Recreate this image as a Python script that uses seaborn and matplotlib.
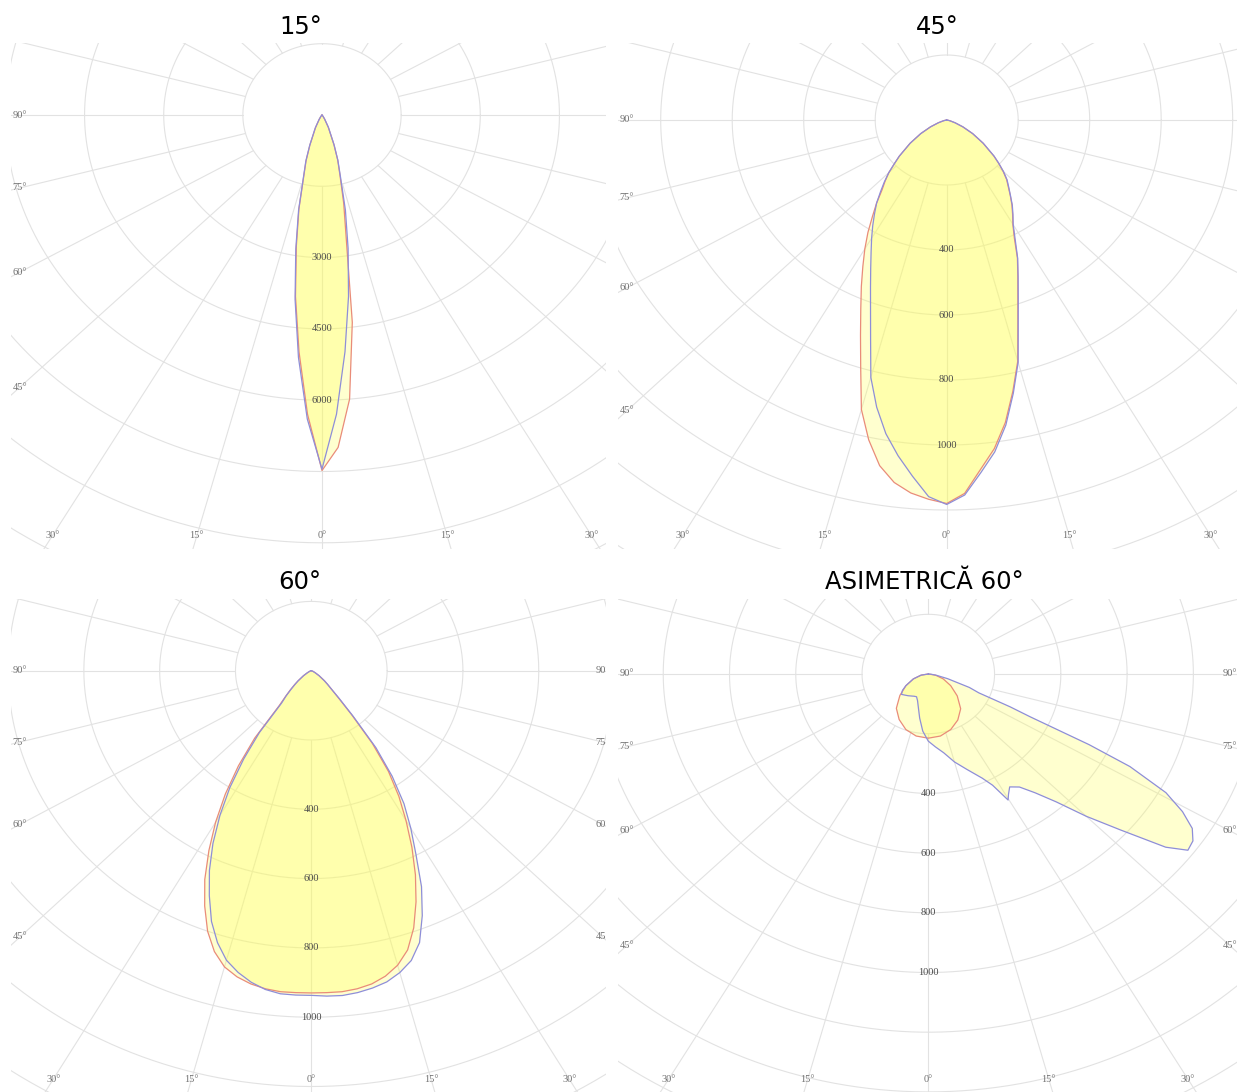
import numpy as np
import matplotlib
matplotlib.use("Agg")
import matplotlib.pyplot as plt
import seaborn as sns

sns.set_theme(style="white")
plt.rcParams["font.family"] = ["DejaVu Sans"]

W, H = 1237, 1092

# 1. Data: luminous intensity (cd) against gamma angle (deg), negative = left half
gamma_15 = [-90, -60, -45, -40, -35, -30, -25, -20, -17.5, -15, -12.5, -10, -7.5, -5, -2.5,
            0, 2.5, 5, 7.5, 10, 12.5, 15, 17.5, 20, 25, 30, 35, 40, 45, 60, 90]
red_15 = [0, 0, 5, 15, 40, 110, 290, 670, 1000, 1340, 2020, 2800, 3850, 5000, 6300,
          7480, 7000, 6000, 4400, 2650, 1900, 1320, 990, 660, 280, 100, 35, 12, 5, 0, 0]
blue_15 = [0, 0, 5, 15, 40, 110, 300, 680, 1020, 1360, 2050, 2860, 3910, 5120, 6400,
           7450, 6300, 5000, 3850, 2850, 2050, 1360, 1000, 670, 290, 100, 35, 12, 5, 0, 0]

gamma_wide = [-90, -85, -80, -75, -70, -65, -60, -55, -50, -47.5, -45, -42.5, -40, -37.5,
              -35, -32.5, -30, -27.5, -25, -22.5, -20, -17.5, -15, -12.5, -10, -7.5, -5, -2.5,
              0, 2.5, 5, 7.5, 10, 12.5, 15, 17.5, 20, 22.5, 25, 27.5, 30, 32.5, 35, 37.5,
              40, 42.5, 45, 47.5, 50, 55, 60, 65, 70, 75, 80, 85, 90]
red_45 = [0, 0, 3, 10, 25, 50, 84, 125, 173, 198, 229, 255, 282, 322,
          362, 410, 458, 508, 565, 628, 705, 800, 922, 1008, 1080, 1125, 1152, 1168,
          1180, 1150, 1080, 1020, 945, 855, 768, 662, 582, 520, 468, 410, 370, 343, 318, 292,
          268, 248, 223, 197, 172, 124, 84, 50, 25, 10, 3, 0, 0]
blue_45 = [0, 0, 3, 10, 25, 50, 84, 125, 173, 198, 229, 258, 288, 322,
           352, 385, 420, 458, 503, 557, 623, 708, 820, 905, 980, 1042, 1100, 1160,
           1183, 1155, 1090, 1030, 953, 861, 772, 665, 585, 522, 470, 415, 372, 345, 320, 293,
           270, 250, 225, 198, 173, 125, 84, 50, 25, 10, 3, 0, 0]

red_60 = [0, 0, 0, 1, 3, 6, 12, 25, 46, 60, 78, 100, 132, 245,
          335, 422, 505, 585, 665, 735, 800, 850, 885, 905, 918, 926, 930, 930,
          930, 930, 930, 926, 918, 903, 880, 845, 790, 722, 650, 575, 500, 430, 355, 265,
          165, 105, 75, 58, 45, 25, 12, 6, 3, 1, 0, 0, 0]
blue_60 = [0, 0, 0, 1, 3, 6, 12, 25, 45, 58, 75, 98, 122, 225,
           311, 400, 482, 562, 636, 703, 770, 823, 865, 892, 913, 928, 936, 937,
           937, 940, 941, 937, 930, 920, 902, 877, 835, 765, 688, 598, 525, 455, 372, 280,
           172, 110, 75, 58, 45, 25, 12, 6, 3, 1, 0, 0, 0]

gamma_asym_red = [-90, -80, -70, -60, -50, -40, -30, -20, -10, 0, 10, 20, 30, 40, 50, 60, 70, 80, 90]
red_asym = [0, 22, 48, 78, 112, 150, 176, 198, 211, 215, 211, 198, 178, 152, 114, 78, 48, 22, 0]
gamma_asym_blue = [-90, -80, -70, -60, -55, -50, -45, -40, -35, -30, -25, -20, -15, -10, -5,
                   0, 5, 10, 15, 20, 25, 27.5, 29.7, 31, 33, 36, 39, 42, 45, 48, 51, 53, 55,
                   57, 59, 61, 63, 64, 65, 66, 67.5, 70, 75, 80, 85, 90]
blue_asym = [0, 22, 48, 78, 95, 106, 100, 95, 90, 86, 84, 95, 116, 150, 192,
             225, 245, 268, 305, 340, 385, 420, 486, 470, 451, 468, 512, 576, 674, 781, 922, 981, 975,
             950, 895, 820, 683, 540, 339, 270, 165, 132, 60, 25, 8, 0]

titles = ["15°", "45°", "60°", "ASIMETRICĂ 60°"]
ring_labels_15 = [3000, 4500, 6000]
ring_labels_other = [400, 600, 800, 1000]
angle_ticks = [0, 15, 30, 45, 60, 75, 90]

GRID = "#e2e2e2"
RED = "#e98c79"
BLUE = "#8e8ed8"
FILL = "#ffff55"


def to_xy(gamma, cd):
    g = np.radians(np.asarray(gamma, float))
    cd = np.asarray(cd, float)
    return cd * np.sin(g), -cd * np.cos(g)


def draw_panel(box, center, px_per_cd, stretch, step, ring_labels, series, title, title_xy):
    x0, y0, x1, y1 = box
    cx, cy = center
    kx = px_per_cd * stretch
    ax = fig.add_axes([x0 / W, 1 - y1 / H, (x1 - x0) / W, (y1 - y0) / H])
    xlim = ((x0 - cx) / kx, (x1 - cx) / kx)
    ylim = (-(y1 - cy) / px_per_cd, (cy - y0) / px_per_cd)
    ax.set_xlim(*xlim)
    ax.set_ylim(*ylim)
    ax.set_axis_off()

    # polar grid: rings + 15 degree spokes starting at the first ring
    rmax = max(np.hypot(x, y) for x in xlim for y in ylim)
    t = np.linspace(0, 2 * np.pi, 500)
    for k in range(1, int(rmax / step) + 2):
        ax.plot(k * step * np.cos(t), k * step * np.sin(t), color=GRID, lw=0.8, zorder=1)
    for a in np.radians(np.arange(0, 360, 15)):
        ax.plot([step * np.sin(a), rmax * 1.1 * np.sin(a)],
                [-step * np.cos(a), -rmax * 1.1 * np.cos(a)], color=GRID, lw=0.8, zorder=1)

    # curves
    for gamma, cd, col in series:
        x, y = to_xy(gamma, cd)
        ax.fill(x, y, color=FILL, alpha=0.28, lw=0, zorder=2)
        sns.lineplot(x=x, y=y, sort=False, estimator=None, color=col, lw=0.9, ax=ax, zorder=3)

    # ring values along the 0 degree ray
    for val in ring_labels:
        ax.text(0, -val, str(val), ha="center", va="center", fontsize=7.5, color="#4a4a4a",
                family="Liberation Serif", zorder=5)

    # angle labels where each ray meets the frame (skip those whose centre falls outside)
    half = cx - (x0 + 9)
    low = (y1 - 13) - cy
    for a in angle_ticks:
        ar = np.radians(a)
        dxp, dyp = np.sin(ar) * kx, np.cos(ar) * px_per_cd
        r = np.inf
        if dxp > 1e-9:
            r = min(r, half / dxp)
        if dyp > 1e-9:
            r = min(r, low / dyp)
        for sgn in ([1] if a == 0 else [-1, 1]):
            px = cx + sgn * r * dxp
            if px < x0 or px > x1:
                continue
            ax.text(sgn * r * np.sin(ar), -r * np.cos(ar), f"{a}°", ha="center", va="center",
                    fontsize=7.5, color="#707070", family="Liberation Serif", clip_on=True, zorder=5)

    fig.text(title_xy[0] / W, 1 - title_xy[1] / H, title, ha="center", va="center",
             fontsize=17.5, color="black")
    return ax


fig = plt.figure(figsize=(W / 100, H / 100), dpi=100)

draw_panel((11, 43, 606, 549), (322, 115), 71.3 / 1500, 1.11, 1500, ring_labels_15,
           [(gamma_15, red_15, RED), (gamma_15, blue_15, BLUE)], titles[0], (301, 27))
draw_panel((618, 43, 1237, 549), (946.7, 120), 65 / 200, 1.10, 200, ring_labels_other,
           [(gamma_wide, red_45, RED), (gamma_wide, blue_45, BLUE)], titles[1], (937, 27))
draw_panel((11, 599, 606, 1092), (311.3, 670.7), 69.3 / 200, 1.094, 200, ring_labels_other,
           [(gamma_wide, red_60, RED), (gamma_wide, blue_60, BLUE)], titles[2], (300, 582))
draw_panel((618, 599, 1237, 1092), (928.3, 674), 59.7 / 200, 1.11, 200, ring_labels_other,
           [(gamma_asym_red, red_asym, RED), (gamma_asym_blue, blue_asym, BLUE)], titles[3], (924, 582))

fig.savefig("out.png", dpi=100)
plt.close(fig)
